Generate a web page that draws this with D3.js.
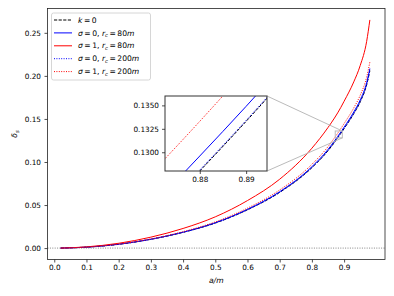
<!DOCTYPE html>
<html>
<head>
<meta charset="utf-8">
<script src="https://cdn.jsdelivr.net/npm/d3@7"></script>
<style>
  body { margin: 0; background: #fff; }
  svg text { font-family: "DejaVu Sans", sans-serif; fill: #000; }
</style>
</head>
<body>
<div id="chart"></div>
<script>
// spin a/m sample points
const spin = [0.02, 0.1, 0.2, 0.3, 0.4, 0.5, 0.6, 0.7, 0.8, 0.85, 0.87, 0.88, 0.89, 0.9, 0.93, 0.95, 0.97, 0.98];

const kerr      = [0.0000, 0.0011, 0.0044, 0.0102, 0.0183, 0.0291, 0.0445, 0.0647, 0.0934, 0.1131, 0.1228, 0.1280, 0.1333, 0.1388, 0.1561, 0.1699, 0.1897, 0.2060];
const s0rc80    = [0.0000, 0.0011, 0.0045, 0.0103, 0.0185, 0.0295, 0.0450, 0.0655, 0.0945, 0.1145, 0.1244, 0.1296, 0.1349, 0.1404, 0.1580, 0.1720, 0.1920, 0.2085];
const s1rc80    = [0.0000, 0.0014, 0.0056, 0.0127, 0.0228, 0.0363, 0.0552, 0.0800, 0.1160, 0.1400, 0.1510, 0.1570, 0.1635, 0.1705, 0.1930, 0.2120, 0.2400, 0.2650];
const s0rc200   = [0.0000, 0.0011, 0.0044, 0.0102, 0.0183, 0.0291, 0.0445, 0.0648, 0.0935, 0.1132, 0.1229, 0.1281, 0.1334, 0.1389, 0.1562, 0.1700, 0.1898, 0.2062];
const s1rc200   = [0.0000, 0.0011, 0.0046, 0.0106, 0.0191, 0.0304, 0.0464, 0.0675, 0.0973, 0.1178, 0.1280, 0.1333, 0.1388, 0.1446, 0.1628, 0.1775, 0.1985, 0.2160];

const xTicks = [0, 0.1, 0.2, 0.3, 0.4, 0.5, 0.6, 0.7, 0.8, 0.9];
const yTicks = [0, 0.05, 0.10, 0.15, 0.20, 0.25];
const insetXTicks = [0.88, 0.89];
const insetYTicks = [0.1300, 0.1325, 0.1350];

const series = [
  { vals: kerr,    color: '#000', dash: '3.2,1.4', label: [['k', 1], ['\u2009=\u20090', 0]] },
  { vals: s0rc80,  color: '#0000ff', dash: null, label: [['σ', 1], ['\u2009=\u20090, ', 0], ['r', 1], ['c', 2], ['\u2009=\u200980', 0], ['m', 1]] },
  { vals: s1rc80,  color: '#ff0000', dash: null, label: [['σ', 1], ['\u2009=\u20091, ', 0], ['r', 1], ['c', 2], ['\u2009=\u200980', 0], ['m', 1]] },
  { vals: s0rc200, color: '#0000ff', dash: '1,1.4', label: [['σ', 1], ['\u2009=\u20090, ', 0], ['r', 1], ['c', 2], ['\u2009=\u2009200', 0], ['m', 1]] },
  { vals: s1rc200, color: '#ff0000', dash: '1,1.4', label: [['σ', 1], ['\u2009=\u20091, ', 0], ['r', 1], ['c', 2], ['\u2009=\u2009200', 0], ['m', 1]] }
];

const W = 394, H = 296;
const box = { left: 47.5, right: 385, top: 8.5, bottom: 259.5 };
const ins = { left: 165, right: 267, top: 96, bottom: 171 };
const fs = '7.3px';

const svg = d3.select('#chart').append('svg').attr('width', W).attr('height', H);
svg.append('rect').attr('width', W).attr('height', H).attr('fill', '#fff');

const x = d3.scaleLinear().domain([-0.021, 1.027]).range([box.left, box.right]);
const y = d3.scaleLinear().domain([-0.01325, 0.27825]).range([box.bottom, box.top]);
const xi = d3.scaleLinear().domain([0.8725, 0.8945]).range([ins.left, ins.right]);
const yi = d3.scaleLinear().domain([0.128, 0.136]).range([ins.bottom, ins.top]);

const defs = svg.append('defs');
defs.append('clipPath').attr('id', 'clipMain').append('rect')
  .attr('x', box.left).attr('y', box.top).attr('width', box.right - box.left).attr('height', box.bottom - box.top);
defs.append('clipPath').attr('id', 'clipInset').append('rect')
  .attr('x', ins.left).attr('y', ins.top).attr('width', ins.right - ins.left).attr('height', ins.bottom - ins.top);

// zero line
svg.append('line')
  .attr('x1', box.left).attr('x2', box.right).attr('y1', y(0)).attr('y2', y(0))
  .attr('stroke', '#666').attr('stroke-width', 0.8).attr('stroke-dasharray', '1,1.4');

const drawCurves = (g, sx, sy, clip) => {
  const line = d3.line().x(d => sx(d[0])).y(d => sy(d[1])).curve(d3.curveMonotoneX);
  const layer = g.append('g').attr('clip-path', `url(#${clip})`);
  series.forEach(s => {
    layer.append('path')
      .datum(spin.map((a, i) => [a, s.vals[i]]))
      .attr('d', line)
      .attr('fill', 'none')
      .attr('stroke', s.color)
      .attr('stroke-width', 1)
      .attr('stroke-dasharray', s.dash);
  });
};
drawCurves(svg, x, y, 'clipMain');

// inset marker rectangle and connectors
const rx0 = x(0.8725), rx1 = x(0.8945), ry0 = y(0.136), ry1 = y(0.128);
svg.append('rect').attr('x', rx0).attr('y', ry0).attr('width', rx1 - rx0).attr('height', ry1 - ry0)
  .attr('fill', 'none').attr('stroke', '#bbb').attr('stroke-width', 1);
svg.append('line').attr('x1', ins.right).attr('y1', ins.top).attr('x2', rx1).attr('y2', ry0)
  .attr('stroke', '#bbb').attr('stroke-width', 1);
svg.append('line').attr('x1', ins.right).attr('y1', ins.bottom).attr('x2', rx1).attr('y2', ry1)
  .attr('stroke', '#bbb').attr('stroke-width', 1);

// main axes frame
svg.append('rect').attr('x', box.left).attr('y', box.top)
  .attr('width', box.right - box.left).attr('height', box.bottom - box.top)
  .attr('fill', 'none').attr('stroke', '#222').attr('stroke-width', 0.8);

const xAxis = d3.axisBottom(x).tickValues(xTicks).tickFormat(d3.format('.1f')).tickSize(3).tickPadding(2.5);
const gx = svg.append('g').attr('transform', `translate(0,${box.bottom})`).call(xAxis);
const yAxis = d3.axisLeft(y).tickValues(yTicks).tickFormat(d3.format('.2f')).tickSize(3).tickPadding(3.5);
const gy = svg.append('g').attr('transform', `translate(${box.left},0)`).call(yAxis);
[gx, gy].forEach(g => {
  g.select('.domain').remove();
  g.selectAll('line').attr('stroke', '#222').attr('stroke-width', 0.8);
  g.selectAll('text').style('font-size', fs).style('font-family', '"DejaVu Sans", sans-serif');
});

svg.append('text').attr('x', (box.left + box.right) / 2).attr('y', 283)
  .attr('text-anchor', 'middle').style('font-size', '7.6px').style('font-style', 'italic').text('a/m');

const yl = svg.append('text').attr('transform', `translate(17,${(box.top + box.bottom) / 2}) rotate(-90)`)
  .attr('text-anchor', 'middle').style('font-size', '7.6px');
yl.append('tspan').style('font-style', 'italic').text('δ');
yl.append('tspan').style('font-style', 'italic').style('font-size', '5.3px').attr('dy', 1.5).text('s');

// legend
const leg = svg.append('g');
leg.append('rect').attr('x', 51.5).attr('y', 13).attr('width', 99).attr('height', 67).attr('rx', 2)
  .attr('fill', '#fff').attr('fill-opacity', 0.8).attr('stroke', '#ccc').attr('stroke-width', 0.8);
series.forEach((s, i) => {
  const cy = 20 + i * 12.9;
  leg.append('line').attr('x1', 54).attr('x2', 72).attr('y1', cy).attr('y2', cy)
    .attr('stroke', s.color).attr('stroke-width', 1).attr('stroke-dasharray', s.dash);
  const t = leg.append('text').attr('x', 78).attr('y', cy + 2.6).style('font-size', '7.6px');
  let shift = 0;
  s.label.forEach(([txt, kind]) => {
    const sp = t.append('tspan').text(txt);
    if (kind >= 1) sp.style('font-style', 'italic');
    if (kind === 2) { sp.style('font-size', '5.3px').attr('dy', 1.5); shift = 1.5; }
    else if (shift) { sp.attr('dy', -shift); shift = 0; }
  });
});

// inset axes
const gi = svg.append('g');
gi.append('rect').attr('x', ins.left).attr('y', ins.top)
  .attr('width', ins.right - ins.left).attr('height', ins.bottom - ins.top).attr('fill', '#fff');
drawCurves(gi, xi, yi, 'clipInset');
gi.append('rect').attr('x', ins.left).attr('y', ins.top)
  .attr('width', ins.right - ins.left).attr('height', ins.bottom - ins.top)
  .attr('fill', 'none').attr('stroke', '#333').attr('stroke-width', 1);
const gix = gi.append('g').attr('transform', `translate(0,${ins.bottom})`)
  .call(d3.axisBottom(xi).tickValues(insetXTicks).tickFormat(d3.format('.2f')).tickSize(3).tickPadding(2.5));
const giy = gi.append('g').attr('transform', `translate(${ins.left},0)`)
  .call(d3.axisLeft(yi).tickValues(insetYTicks).tickFormat(d3.format('.4f')).tickSize(3).tickPadding(3));
[gix, giy].forEach(g => {
  g.select('.domain').remove();
  g.selectAll('line').attr('stroke', '#222').attr('stroke-width', 0.8);
  g.selectAll('text').style('font-size', fs).style('font-family', '"DejaVu Sans", sans-serif');
});
</script>
</body>
</html>
